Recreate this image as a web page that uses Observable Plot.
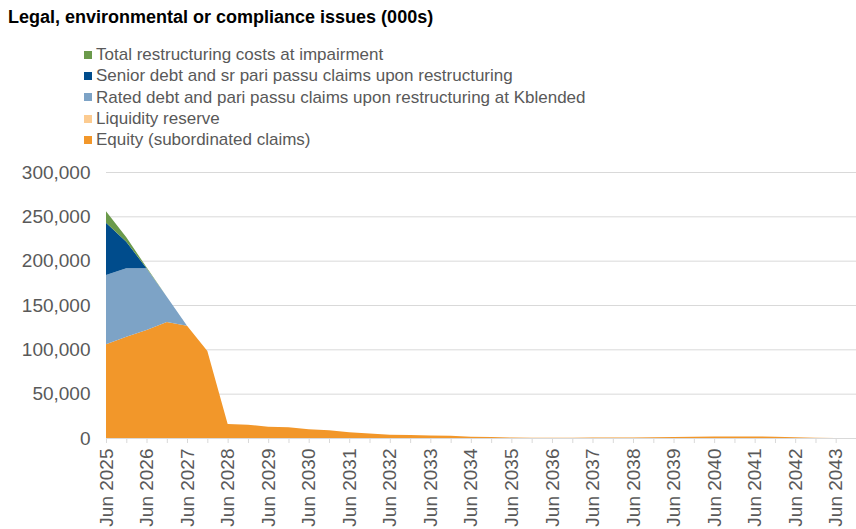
<!DOCTYPE html>
<html>
<head>
<meta charset="utf-8">
<script src="https://cdn.jsdelivr.net/npm/d3@7"></script>
<script src="https://cdn.jsdelivr.net/npm/@observablehq/plot@0.6"></script>
<style>
  html, body { margin: 0; padding: 0; background: #fff; }
  body { width: 856px; height: 529px; overflow: hidden; font-family: "Liberation Sans", Arial, sans-serif; }
  #head { position: relative; height: 150px; }
  #title { position: absolute; left: 8px; top: 7px; font-size: 18px; font-weight: bold; color: #000; white-space: nowrap; }
  #legend { position: absolute; left: 84px; top: 44px; }
  .item { height: 21.3px; line-height: 21px; font-size: 17px; color: #595959; white-space: nowrap; display: flex; align-items: center; }
  .sw { width: 8px; height: 8px; margin-right: 4px; display: inline-block; }
  #chart svg { display: block; }
</style>
</head>
<body>
<div id="head">
  <div id="title">Legal, environmental or compliance issues (000s)</div>
  <div id="legend"></div>
</div>
<div id="chart"></div>
<script>
const periods = ["2025-06","2025-12","2026-06","2026-12","2027-06","2027-12","2028-06","2028-12","2029-06","2029-12",
  "2030-06","2030-12","2031-06","2031-12","2032-06","2032-12","2033-06","2033-12","2034-06","2034-12",
  "2035-06","2035-12","2036-06","2036-12","2037-06","2037-12","2038-06","2038-12","2039-06","2039-12",
  "2040-06","2040-12","2041-06","2041-12","2042-06","2042-12","2043-06","2043-12"];

const equity = [105700,114300,121800,130800,126700,98100,15800,15000,12800,12000,
  9800,8700,6400,5000,3800,3400,2700,2500,1500,1000,
  600,400,400,400,500,500,600,800,1200,1400,
  1600,1700,1700,1500,900,300,0,0];
const liquidity = [0,0,0,0,0,0,0,0,0,0, 0,0,0,0,0,0,0,0,0,0, 0,0,0,0,0,0,0,0,0,0, 0,0,0,0,0,0,0,0];
const rated = [78100,77100,69600,28600,0,0,0,0,0,0, 0,0,0,0,0,0,0,0,0,0, 0,0,0,0,0,0,0,0,0,0, 0,0,0,0,0,0,0,0];
const senior = [59000,30000,0,0,0,0,0,0,0,0, 0,0,0,0,0,0,0,0,0,0, 0,0,0,0,0,0,0,0,0,0, 0,0,0,0,0,0,0,0];
const restructuring = [13000,5000,1200,0,0,0,0,0,0,0, 0,0,0,0,0,0,0,0,0,0, 0,0,0,0,0,0,0,0,0,0, 0,0,0,0,0,0,0,0];

const seriesNames = [
  "Total restructuring costs at impairment",
  "Senior debt and sr pari passu claims upon restructuring",
  "Rated debt and pari passu claims upon restructuring at Kblended",
  "Liquidity reserve",
  "Equity (subordinated claims)"
];
const seriesColors = ["#6B9A4B", "#004C8C", "#7DA3C6", "#FCCB90", "#F2972A"];
const yTicks = [0, 50000, 100000, 150000, 200000, 250000, 300000];

const parseP = d3.utcParse("%Y-%m");
const dates = periods.map(parseP);
const junDates = dates.filter(d => d.getUTCMonth() === 5);

// Build long table (bottom to top stacking order)
const stackOrder = [seriesNames[4], seriesNames[3], seriesNames[2], seriesNames[1], seriesNames[0]];
const valuesBy = {
  [seriesNames[0]]: restructuring,
  [seriesNames[1]]: senior,
  [seriesNames[2]]: rated,
  [seriesNames[3]]: liquidity,
  [seriesNames[4]]: equity
};
const table = [];
for (const s of stackOrder) {
  valuesBy[s].forEach((v, i) => table.push({date: dates[i], series: s, value: v}));
}

// Legend
const legend = document.getElementById("legend");
seriesNames.forEach((n, i) => {
  const row = document.createElement("div");
  row.className = "item";
  row.innerHTML = `<span class="sw" style="background:${seriesColors[i]}"></span><span>${n}</span>`;
  legend.appendChild(row);
});

const chart = Plot.plot({
  width: 856,
  height: 379,
  marginLeft: 106,
  marginRight: 0,
  marginTop: 22,
  marginBottom: 91,
  style: {fontFamily: "'Liberation Sans', Arial, sans-serif", background: "#fff", overflow: "visible"},
  x: {type: "utc", domain: [dates[0], dates[dates.length - 1]]},
  y: {domain: [0, 300000]},
  color: {domain: seriesNames, range: seriesColors},
  marks: [
    Plot.gridY({ticks: yTicks, stroke: "#D9D9D9", strokeOpacity: 1}),
    Plot.areaY(table, {x: "date", y: "value", z: "series", fill: "series", order: stackOrder, curve: "linear"}),
    Plot.ruleY([0], {stroke: "#D9D9D9", strokeWidth: 1}),
    Plot.axisX({ticks: dates, tickSize: 5, stroke: "#D9D9D9", tickFormat: () => "", label: null}),
    Plot.axisX({ticks: junDates, tickSize: 0, tickPadding: 10, tickRotate: -90, fontSize: 19, fill: "#595959",
      tickFormat: d => `Jun ${d.getUTCFullYear()}`, label: null}),
    Plot.axisY({ticks: yTicks, tickSize: 0, tickPadding: 16, fontSize: 19, fill: "#595959",
      tickFormat: d3.format(","), label: null})
  ]
});
document.getElementById("chart").appendChild(chart);
</script>
</body>
</html>
